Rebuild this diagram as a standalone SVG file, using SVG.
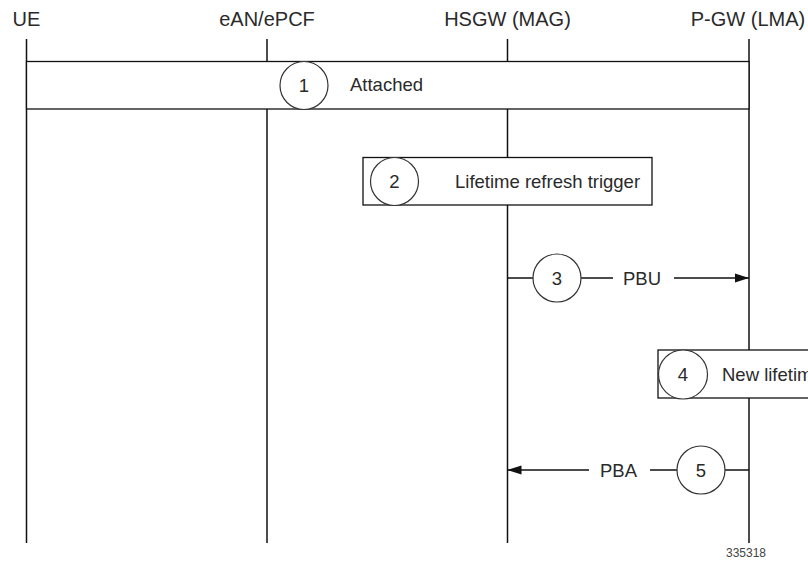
<svg xmlns="http://www.w3.org/2000/svg" width="808" height="565" viewBox="0 0 808 565">
<defs>
<style>
text{font-family:"Liberation Sans",Arial,sans-serif;font-size:18.5px;fill:#2a2a2a}
.hd{font-size:20px;text-anchor:middle}
.ll{stroke:#111;stroke-width:1.5;fill:none}
.box{stroke:#111;stroke-width:1.3;fill:#fff}
.c{stroke:#333;stroke-width:1.2;fill:#fff}
.n{text-anchor:middle}
.msg{stroke:#111;stroke-width:1.5;fill:none}
.small{font-size:12px;fill:#444}
</style>
<marker id="ah" markerWidth="14" markerHeight="10" refX="14" refY="5" orient="auto" markerUnits="userSpaceOnUse">
<path d="M0,0.5 L14,5 L0,9.5 Z" fill="#111"/>
</marker>
</defs>
<rect width="808" height="565" fill="#fff"/>
<g id="lifelines">
<g id="ue"><text x="26.5" y="26" class="hd">UE</text><line class="ll" x1="26.5" y1="39" x2="26.5" y2="543"/></g>
<g id="ean"><text x="267" y="26" class="hd">eAN/ePCF</text><line class="ll" x1="267" y1="39" x2="267" y2="543"/></g>
<g id="hsgw"><text x="507.5" y="26" class="hd">HSGW (MAG)</text><line class="ll" x1="507.5" y1="39" x2="507.5" y2="543"/></g>
<g id="pgw"><text x="748" y="26" class="hd">P-GW (LMA)</text><line class="ll" x1="749" y1="39" x2="749" y2="543"/></g>
</g>
<g id="step1">
<rect class="box" x="26.5" y="61.5" width="722.5" height="47.5"/>
<circle class="c" cx="304" cy="85.5" r="24"/>
<text x="304" y="92" class="n">1</text>
<text x="350" y="91">Attached</text>
</g>
<g id="step2">
<rect class="box" x="363" y="157.5" width="289" height="47.5"/>
<circle class="c" cx="394.5" cy="181.5" r="24"/>
<text x="394.5" y="188" class="n">2</text>
<text x="455" y="187.5">Lifetime refresh trigger</text>
</g>
<g id="step4">
<rect class="box" x="658" y="350" width="170" height="48"/>
<circle class="c" cx="683" cy="374.5" r="24.5"/>
<text x="683" y="381" class="n">4</text>
<text x="722" y="381">New lifetime</text>
</g>
<g id="connectors">
<line class="msg" x1="507.5" y1="278" x2="533" y2="278"/>
<line class="msg" x1="581" y1="278" x2="613" y2="278"/>
<line class="msg" x1="674" y1="278" x2="749" y2="278" marker-end="url(#ah)"/>
<line class="msg" x1="589" y1="470" x2="507.5" y2="470" marker-end="url(#ah)"/>
<line class="msg" x1="650" y1="470" x2="677" y2="470"/>
<line class="msg" x1="725" y1="470" x2="749" y2="470"/>
</g>
<g id="step3">
<circle class="c" cx="557" cy="278" r="24"/>
<text x="557" y="284.5" class="n">3</text>
<text x="623" y="284.5">PBU</text>
</g>
<g id="step5">
<circle class="c" cx="701" cy="470" r="24"/>
<text x="701" y="476.5" class="n">5</text>
<text x="600" y="476.5">PBA</text>
</g>
<text x="726" y="557" class="small">335318</text>
</svg>
